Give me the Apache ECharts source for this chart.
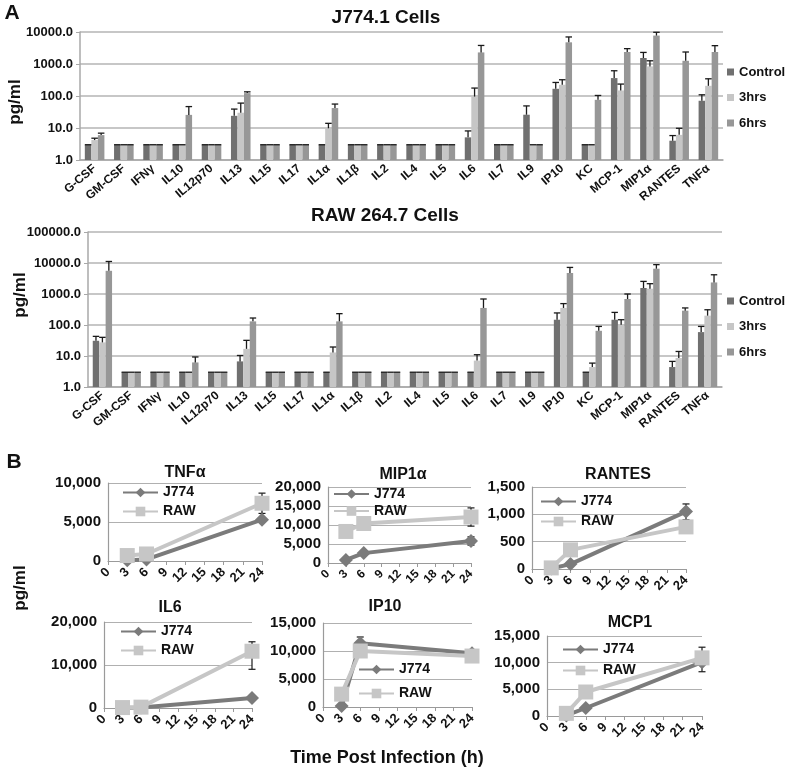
<!DOCTYPE html>
<html><head><meta charset="utf-8">
<script src="https://cdn.jsdelivr.net/npm/echarts@6/dist/echarts.min.js"></script>
<style>html,body{margin:0;padding:0;background:#fff}#c{width:786px;height:771px}</style>
</head><body><div id="c"></div>
<script>
// ---------------- DATA ----------------
const cytokines = ['G-CSF','GM-CSF','IFNγ','IL10','IL12p70','IL13','IL15','IL17','IL1α','IL1β','IL2','IL4','IL5','IL6','IL7','IL9','IP10','KC','MCP-1','MIP1α','RANTES','TNFα'];
const groupNames = ['Control','3hrs','6hrs'];

// J774.1 cells (pg/ml) and upper error (SD)
const j774Control    = [3,3,3,3,3,24,3,3,3,3,3,3,3,5.1,3,26,168,3,363,1540,4.0,71];
const j774ControlErr = [0,0,0,0,0,15,0,0,0,0,0,0,0,3,0,23,97,0,252,760,1.8,38];
const j7743h         = [4.2,3,3,3,3,30,3,3,9.8,3,3,3,3,96,3,3,224,3,149,840,6.1,208];
const j7743hErr      = [0.6,0,0,0,0,30,0,0,4.2,0,0,0,0,81,0,0,98,0,87,420,3.7,137];
const j7746h         = [6.0,3,3,25.7,3,123,3,3,42,3,3,3,3,2300,3,3,4760,76,2370,7730,1260,2370];
const j7746hErr      = [0.9,0,0,21,0,12,0,0,14,0,0,0,0,1500,0,0,2240,28,650,2070,1110,1370];

// RAW 264.7 cells
const rawControl    = [31,3,3,3,3,6.7,3,3,3,3,3,3,3,3,3,3,148,3,148,1560,4.4,59];
const rawControlErr = [12,0,0,0,0,3.7,0,0,0,0,0,0,0,0,0,0,97,0,107,990,2.3,31];
const raw3h         = [27.5,3,3,3,3,17,3,3,13,3,3,3,3,7.1,3,3,355,4.4,102,1480,8.6,200];
const raw3hErr      = [12.5,0,0,0,0,15,0,0,6.5,0,0,0,0,3.9,0,0,135,1.5,46,670,5.4,110];
const raw6h         = [5600,3,3,6.2,3,131,3,3,131,3,3,3,3,355,3,3,4750,65,690,6550,290,2360];
const raw6hErr      = [5600,0,0,3.1,0,37,0,0,101,0,0,0,0,335,0,0,2450,25,310,2300,65,1810];

// Time courses [hour, pg/ml]; errors [hour, low, high]
const tnfJ774 = [[3,100],[6,200],[24,5300]];
const tnfRaw  = [[3,700],[6,900],[24,7400]];
const tnfErr  = [[24,6100,8700]];
const mipJ774 = [[3,800],[6,2600],[24,5800]];
const mipRaw  = [[3,8300],[6,10400],[24,12100]];
const mipErr  = [[24,4700,6900],[24,9700,14500]];
const ranJ774 = [[3,10],[6,90],[24,1050]];
const ranRaw  = [[3,20],[6,350],[24,770]];
const ranErr  = [[24,900,1190],[24,660,880]];
const il6J774 = [[3,50],[6,100],[24,2300]];
const il6Raw  = [[3,100],[6,200],[24,13200]];
const il6Err  = [[24,9000,15400]];
const ipJ774  = [[3,200],[6,11400],[24,9600]];
const ipRaw   = [[3,2300],[6,10000],[24,9100]];
const ipErr   = [[6,10300,12500],[24,9300,9900]];
const mcpJ774 = [[3,100],[6,1500],[24,10100]];
const mcpRaw  = [[3,500],[6,4500],[24,10900]];
const mcpErr  = [[24,8300,12900]];

// ---------------- STYLE / LAYOUT ----------------
const FONT = '"Liberation Sans", Arial, sans-serif';
const TXT = '#111';
const barColors = ['#707070','#c6c6c6','#979797'];
const GAP = 0.33;
const grids = [], xAxes = [], yAxes = [], series = [], legends = [], graphics = [];

function addText(t, x, y, size, rot){
  graphics.push({type:'text', x:x, y:y, rotation: rot||0,
    style:{text:t, font:'bold '+size+'px '+FONT, fill:TXT, align:'center', verticalAlign:'middle'}});
}

function barErrRender(k){
  return function(params, api){
    const i = api.value(0), v = api.value(1), e = api.value(2);
    const band = api.size([1,1],[i,v])[0];
    const bw = band*(1-GAP)/3;
    const b = api.coord([i,v]); const t = api.coord([i,v+e]);
    const x = b[0] + (k-1)*bw;
    const st = {stroke:'#1a1a1a', lineWidth:1.3};
    const ch = [{type:'line', shape:{x1:x-bw/2, y1:t[1], x2:x+bw/2, y2:t[1]}, style:st}];
    if (e > 0) ch.push({type:'line', shape:{x1:x, y1:b[1], x2:x, y2:t[1]}, style:st});
    return {type:'group', children:ch};
  };
}

function addBarChart(g, maxV, vals, errs, legendTop){
  const gi = grids.length;
  grids.push(g);
  xAxes.push({type:'category', gridIndex:gi, data:cytokines,
    axisLine:{lineStyle:{color:'#a8a8a8', width:1.5}}, axisTick:{show:false},
    axisLabel:{interval:0, rotate:40, color:TXT, fontWeight:'bold', fontSize:12, fontFamily:FONT, margin:7}});
  yAxes.push({type:'log', logBase:10, min:1, max:maxV, gridIndex:gi,
    axisLine:{show:true, lineStyle:{color:'#a8a8a8', width:1.5}},
    axisTick:{show:true, length:4, lineStyle:{color:'#a8a8a8'}},
    splitLine:{lineStyle:{color:'#b4b4b4', width:1.5}},
    axisLabel:{formatter:v=>v.toFixed(1), color:TXT, fontWeight:'bold', fontSize:13, fontFamily:FONT, margin:7}});
  vals.forEach((arr,k)=>{
    series.push({type:'bar', name:groupNames[k], xAxisIndex:gi, yAxisIndex:gi, data:arr,
      barGap:'0%', barCategoryGap:(GAP*100)+'%', itemStyle:{color:barColors[k]}, animation:false});
  });
  vals.forEach((arr,k)=>{
    series.push({type:'custom', name:'err', xAxisIndex:gi, yAxisIndex:gi, z:5,
      renderItem:barErrRender(k), encode:{x:0, y:[1]},
      data:arr.map((v,i)=>[i, v, errs[k][i]]), animation:false, silent:true});
  });
  legends.push({data:groupNames, orient:'vertical', left:727, top:legendTop, padding:0,
    icon:'rect', itemWidth:7, itemHeight:7, itemGap:12.5,
    textStyle:{color:TXT, fontWeight:'bold', fontSize:13, fontFamily:FONT}});
}

addBarChart({left:80, top:32, width:643, height:128}, 10000,
  [j774Control, j7743h, j7746h], [j774ControlErr, j7743hErr, j7746hErr], 65.5);
addBarChart({left:88, top:232, width:634, height:155}, 100000,
  [rawControl, raw3h, raw6h], [rawControlErr, raw3hErr, raw6hErr], 294.5);

function lineErrRender(params, api){
  const x = api.value(0), lo = api.value(1), hi = api.value(2);
  const p1 = api.coord([x,lo]), p2 = api.coord([x,hi]);
  const st = {stroke:'#1a1a1a', lineWidth:1.2}, w = 3.5;
  return {type:'group', children:[
    {type:'line', shape:{x1:p1[0], y1:p1[1], x2:p2[0], y2:p2[1]}, style:st},
    {type:'line', shape:{x1:p1[0]-w, y1:p1[1], x2:p1[0]+w, y2:p1[1]}, style:st},
    {type:'line', shape:{x1:p2[0]-w, y1:p2[1], x2:p2[0]+w, y2:p2[1]}, style:st}]};
}

const panels = [
  {title:'TNFα',  j:tnfJ774, r:tnfRaw, err:tnfErr, max:10000, step:5000, grid:{left:108, top:483, width:154, height:78}, tx:185, ty:473, lg:[122,485.5,5], fs:13},
  {title:'MIP1α', j:mipJ774, r:mipRaw, err:mipErr, max:20000, step:5000, grid:{left:328, top:487, width:143, height:76}, tx:403, ty:475, lg:[333,487,3], fs:12},
  {title:'RANTES',j:ranJ774, r:ranRaw, err:ranErr, max:1500,  step:500,  grid:{left:532, top:487, width:154, height:82}, tx:618, ty:475, lg:[540,494.5,6], fs:13},
  {title:'IL6',   j:il6J774, r:il6Raw, err:il6Err, max:20000, step:10000,grid:{left:104, top:622, width:148, height:86}, tx:170, ty:608, lg:[120,624.5,5], fs:13},
  {title:'IP10',  j:ipJ774,  r:ipRaw,  err:ipErr,  max:15000, step:5000, grid:{left:323, top:623, width:149, height:84}, tx:385, ty:607, lg:[358,662.5,10], fs:13},
  {title:'MCP1',  j:mcpJ774, r:mcpRaw, err:mcpErr, max:15000, step:5000, grid:{left:547, top:636, width:155, height:80}, tx:630, ty:623, lg:[562,642.5,7], fs:13}
];

panels.forEach(p=>{
  const gi = grids.length;
  grids.push(p.grid);
  xAxes.push({type:'value', gridIndex:gi, min:0, max:24, interval:3,
    axisLine:{lineStyle:{color:'#9a9a9a', width:1.2}},
    axisTick:{show:true, length:4, lineStyle:{color:'#9a9a9a'}},
    splitLine:{show:false},
    axisLabel:{rotate:45, color:TXT, fontWeight:'bold', fontSize:p.fs, lineHeight:9, fontFamily:FONT, margin:9,
      showMinLabel:true, showMaxLabel:true, hideOverlap:false}});
  yAxes.push({type:'value', gridIndex:gi, min:0, max:p.max, interval:p.step,
    axisLine:{show:true, lineStyle:{color:'#9a9a9a', width:1.2}},
    axisTick:{show:false},
    splitLine:{lineStyle:{color:'#b0b0b0', width:1.2}},
    axisLabel:{formatter:v=>v.toLocaleString('en-US'), color:TXT, fontWeight:'bold', fontSize:15, fontFamily:FONT, margin:7,
      showMinLabel:true, showMaxLabel:true}});
  series.push({type:'custom', name:'lerr', xAxisIndex:gi, yAxisIndex:gi, z:1,
    renderItem:lineErrRender, encode:{x:0, y:[1,2]}, data:p.err, animation:false, silent:true});
  series.push({type:'line', name:'J774', xAxisIndex:gi, yAxisIndex:gi, data:p.j, z:2,
    symbol:'diamond', symbolSize:14, lineStyle:{width:4, color:'#7b7b7b'}, itemStyle:{color:'#7b7b7b'}, animation:false});
  series.push({type:'line', name:'RAW', xAxisIndex:gi, yAxisIndex:gi, data:p.r, z:3,
    symbol:'rect', symbolSize:15, lineStyle:{width:4, color:'#c6c6c6'}, itemStyle:{color:'#c6c6c6'}, animation:false});
  legends.push({data:['J774','RAW'], orient:'vertical', left:p.lg[0], top:p.lg[1], padding:0,
    itemWidth:35, itemHeight:12, itemGap:p.lg[2],
    textStyle:{color:TXT, fontWeight:'bold', fontSize:14, fontFamily:FONT}});
  addText(p.title, p.tx, p.ty, 16);
});

addText('A', 12, 13, 21);
addText('B', 14, 462, 21);
addText('J774.1 Cells', 386, 18, 19);
addText('RAW 264.7 Cells', 385, 216, 19);
addText('pg/ml', 15, 102, 17, Math.PI/2);
addText('pg/ml', 20, 295, 17, Math.PI/2);
addText('pg/ml', 20, 588, 17, Math.PI/2);
addText('Time Post Infection (h)', 387, 758, 18);

const chart = echarts.init(document.getElementById('c'), null, {renderer:'canvas'});
chart.setOption({
  animation:false, backgroundColor:'#fff',
  grid:grids, xAxis:xAxes, yAxis:yAxes, series:series, legend:legends,
  graphic:graphics
});
</script></body></html>
